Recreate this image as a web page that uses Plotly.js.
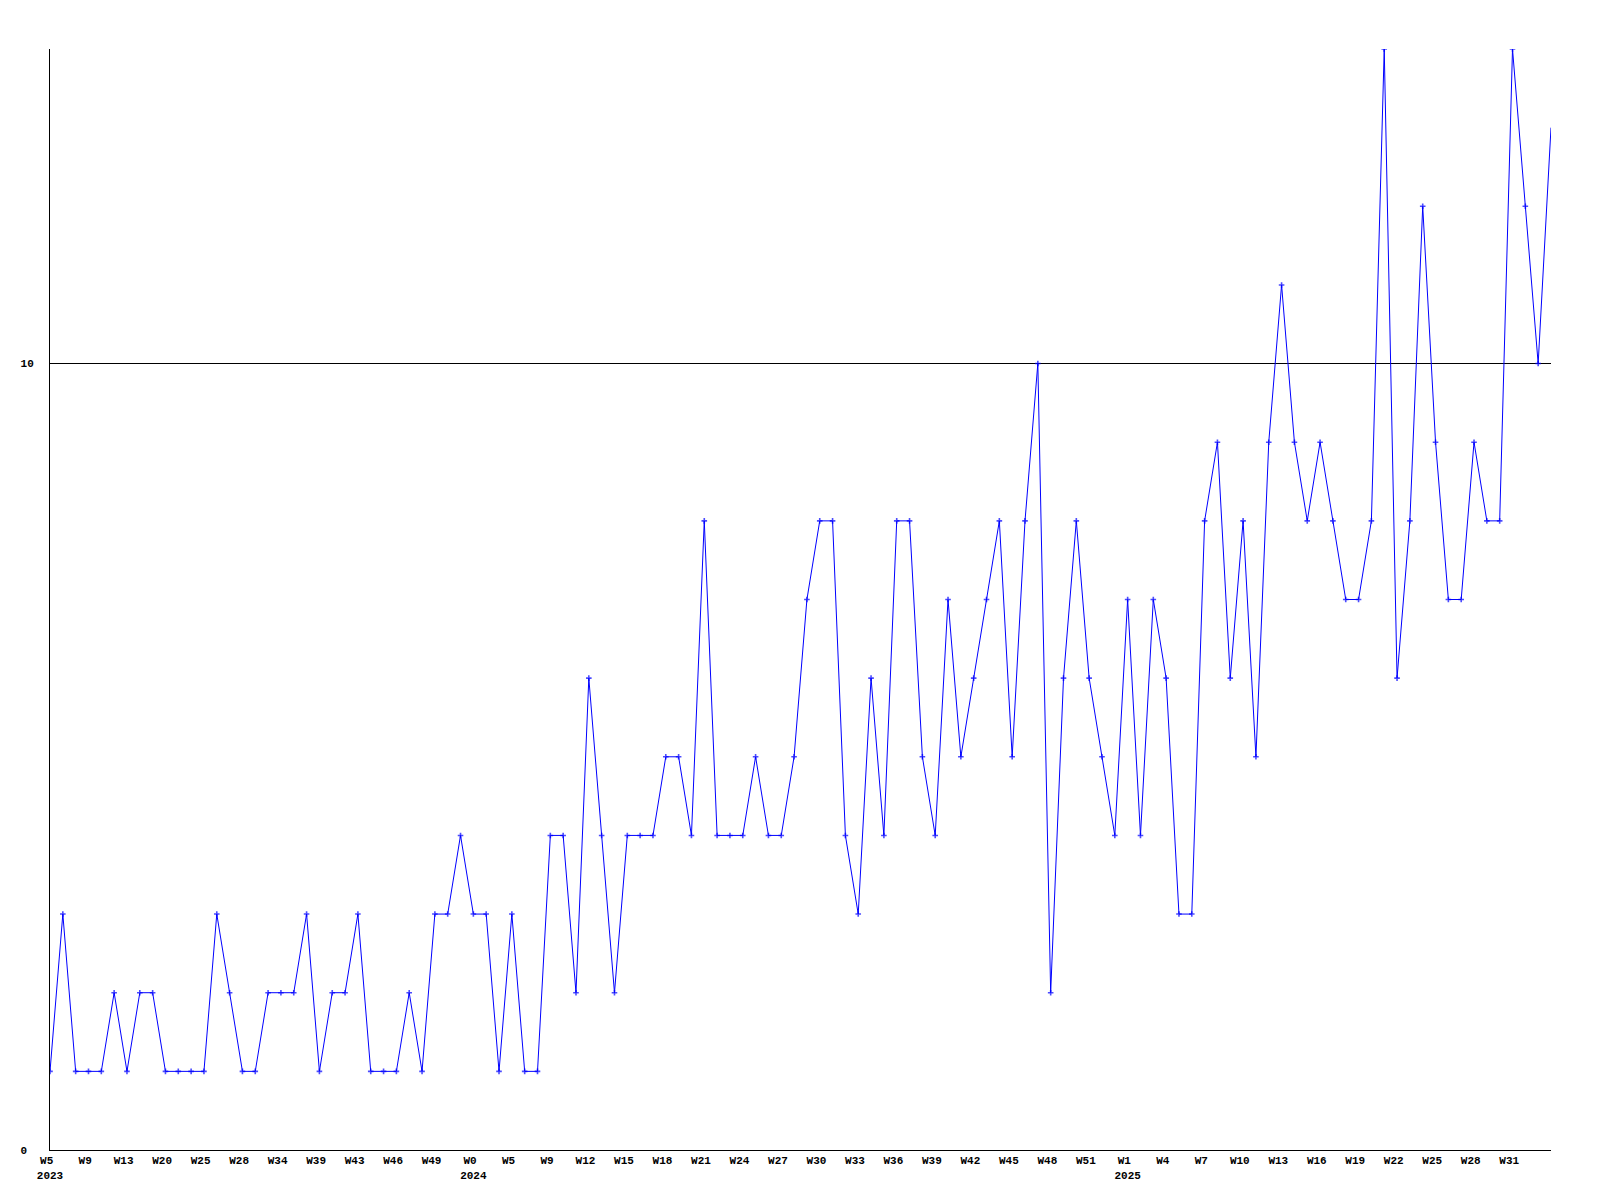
<!DOCTYPE html>
<html>
<head>
<meta charset="utf-8">
<script src="https://cdn.plot.ly/plotly-3.0.1.min.js"></script>
<style>
  html, body { margin: 0; padding: 0; background: #ffffff; }
  #chart { width: 1600px; height: 1200px; }
</style>
</head>
<body>
<div id="chart"></div>
<script>
// Weekly values, one per point (118 points)
const values = [
  1, 3, 1, 1, 1, 2, 1, 2, 2, 1,
  1, 1, 1, 3, 2, 1, 1, 2, 2, 2,
  3, 1, 2, 2, 3, 1, 1, 1, 2, 1,
  3, 3, 4, 3, 3, 1, 3, 1, 1, 4,
  4, 2, 6, 4, 2, 4, 4, 4, 5, 5,
  4, 8, 4, 4, 4, 5, 4, 4, 5, 7,
  8, 8, 4, 3, 6, 4, 8, 8, 5, 4,
  7, 5, 6, 7, 8, 5, 8, 10, 2, 6,
  8, 6, 5, 4, 7, 4, 7, 6, 3, 3,
  8, 9, 6, 8, 5, 9, 11, 9, 8, 9,
  8, 7, 7, 8, 14, 6, 8, 12, 9, 7,
  7, 9, 8, 8, 14, 12, 10, 13
];

// Tick labels shown every third point
const tickLabels = [
  'W5', 'W9', 'W13', 'W20', 'W25', 'W28', 'W34', 'W39', 'W43', 'W46', 'W49',
  'W0', 'W5', 'W9', 'W12', 'W15', 'W18', 'W21', 'W24', 'W27', 'W30', 'W33',
  'W36', 'W39', 'W42', 'W45', 'W48', 'W51',
  'W1', 'W4', 'W7', 'W10', 'W13', 'W16', 'W19', 'W22', 'W25', 'W28', 'W31'
];
const tickStep = 3;

// Year labels placed under the given tick (index into tickLabels)
const yearTickIndex = [0, 11, 28];
const yearNames = ['2023', '2024', '2025'];

// Y axis ticks
const yTickVals = [0, 10];
const yTickText = ['0\u00a0', '10'];
const yMax = 14;

const xs = values.map((_, i) => i);
const tickVals = tickLabels.map((_, i) => i * tickStep);
const tickText = tickLabels.map((lab, i) => {
  const k = yearTickIndex.indexOf(i);
  return k >= 0 ? lab + '\u00a0<br>' + yearNames[k] : lab + '\u00a0';
});
// last point sits on the plot edge and shows no marker in the original
const markerSizes = values.map((_, i) => (i === values.length - 1 ? 0 : 4));

const axisFont = { family: 'Liberation Mono, DejaVu Sans Mono, monospace', size: 11, color: '#000000', weight: 'bold' };

const trace = {
  type: 'scatter',
  mode: 'lines+markers',
  x: xs,
  y: values,
  line: { color: '#0000ff', width: 1 },
  marker: { symbol: 'cross-thin', size: markerSizes, color: '#0000ff', line: { color: '#0000ff', width: 1.6 } },
  hoverinfo: 'skip'
};

const layout = {
  width: 1600,
  height: 1200,
  margin: { l: 50, r: 49, t: 49, b: 50, pad: 0 },
  paper_bgcolor: '#ffffff',
  plot_bgcolor: '#ffffff',
  showlegend: false,
  font: axisFont,
  xaxis: {
    range: [0, values.length - 1],
    tickmode: 'array',
    tickvals: tickVals,
    ticktext: tickText,
    tickangle: 0,
    ticks: '',
    showgrid: false,
    zeroline: false,
    showline: true,
    linecolor: '#000000',
    linewidth: 1,
    tickfont: axisFont
  },
  yaxis: {
    range: [0, yMax],
    tickmode: 'array',
    tickvals: yTickVals,
    ticktext: yTickText,
    ticks: '',
    showgrid: true,
    gridcolor: '#000000',
    gridwidth: 1,
    zeroline: false,
    showline: true,
    linecolor: '#000000',
    linewidth: 1,
    tickfont: axisFont,
    ticklabelstandoff: 13
  }
};

Plotly.newPlot('chart', [trace], layout, { displayModeBar: false, staticPlot: true });
</script>
</body>
</html>
